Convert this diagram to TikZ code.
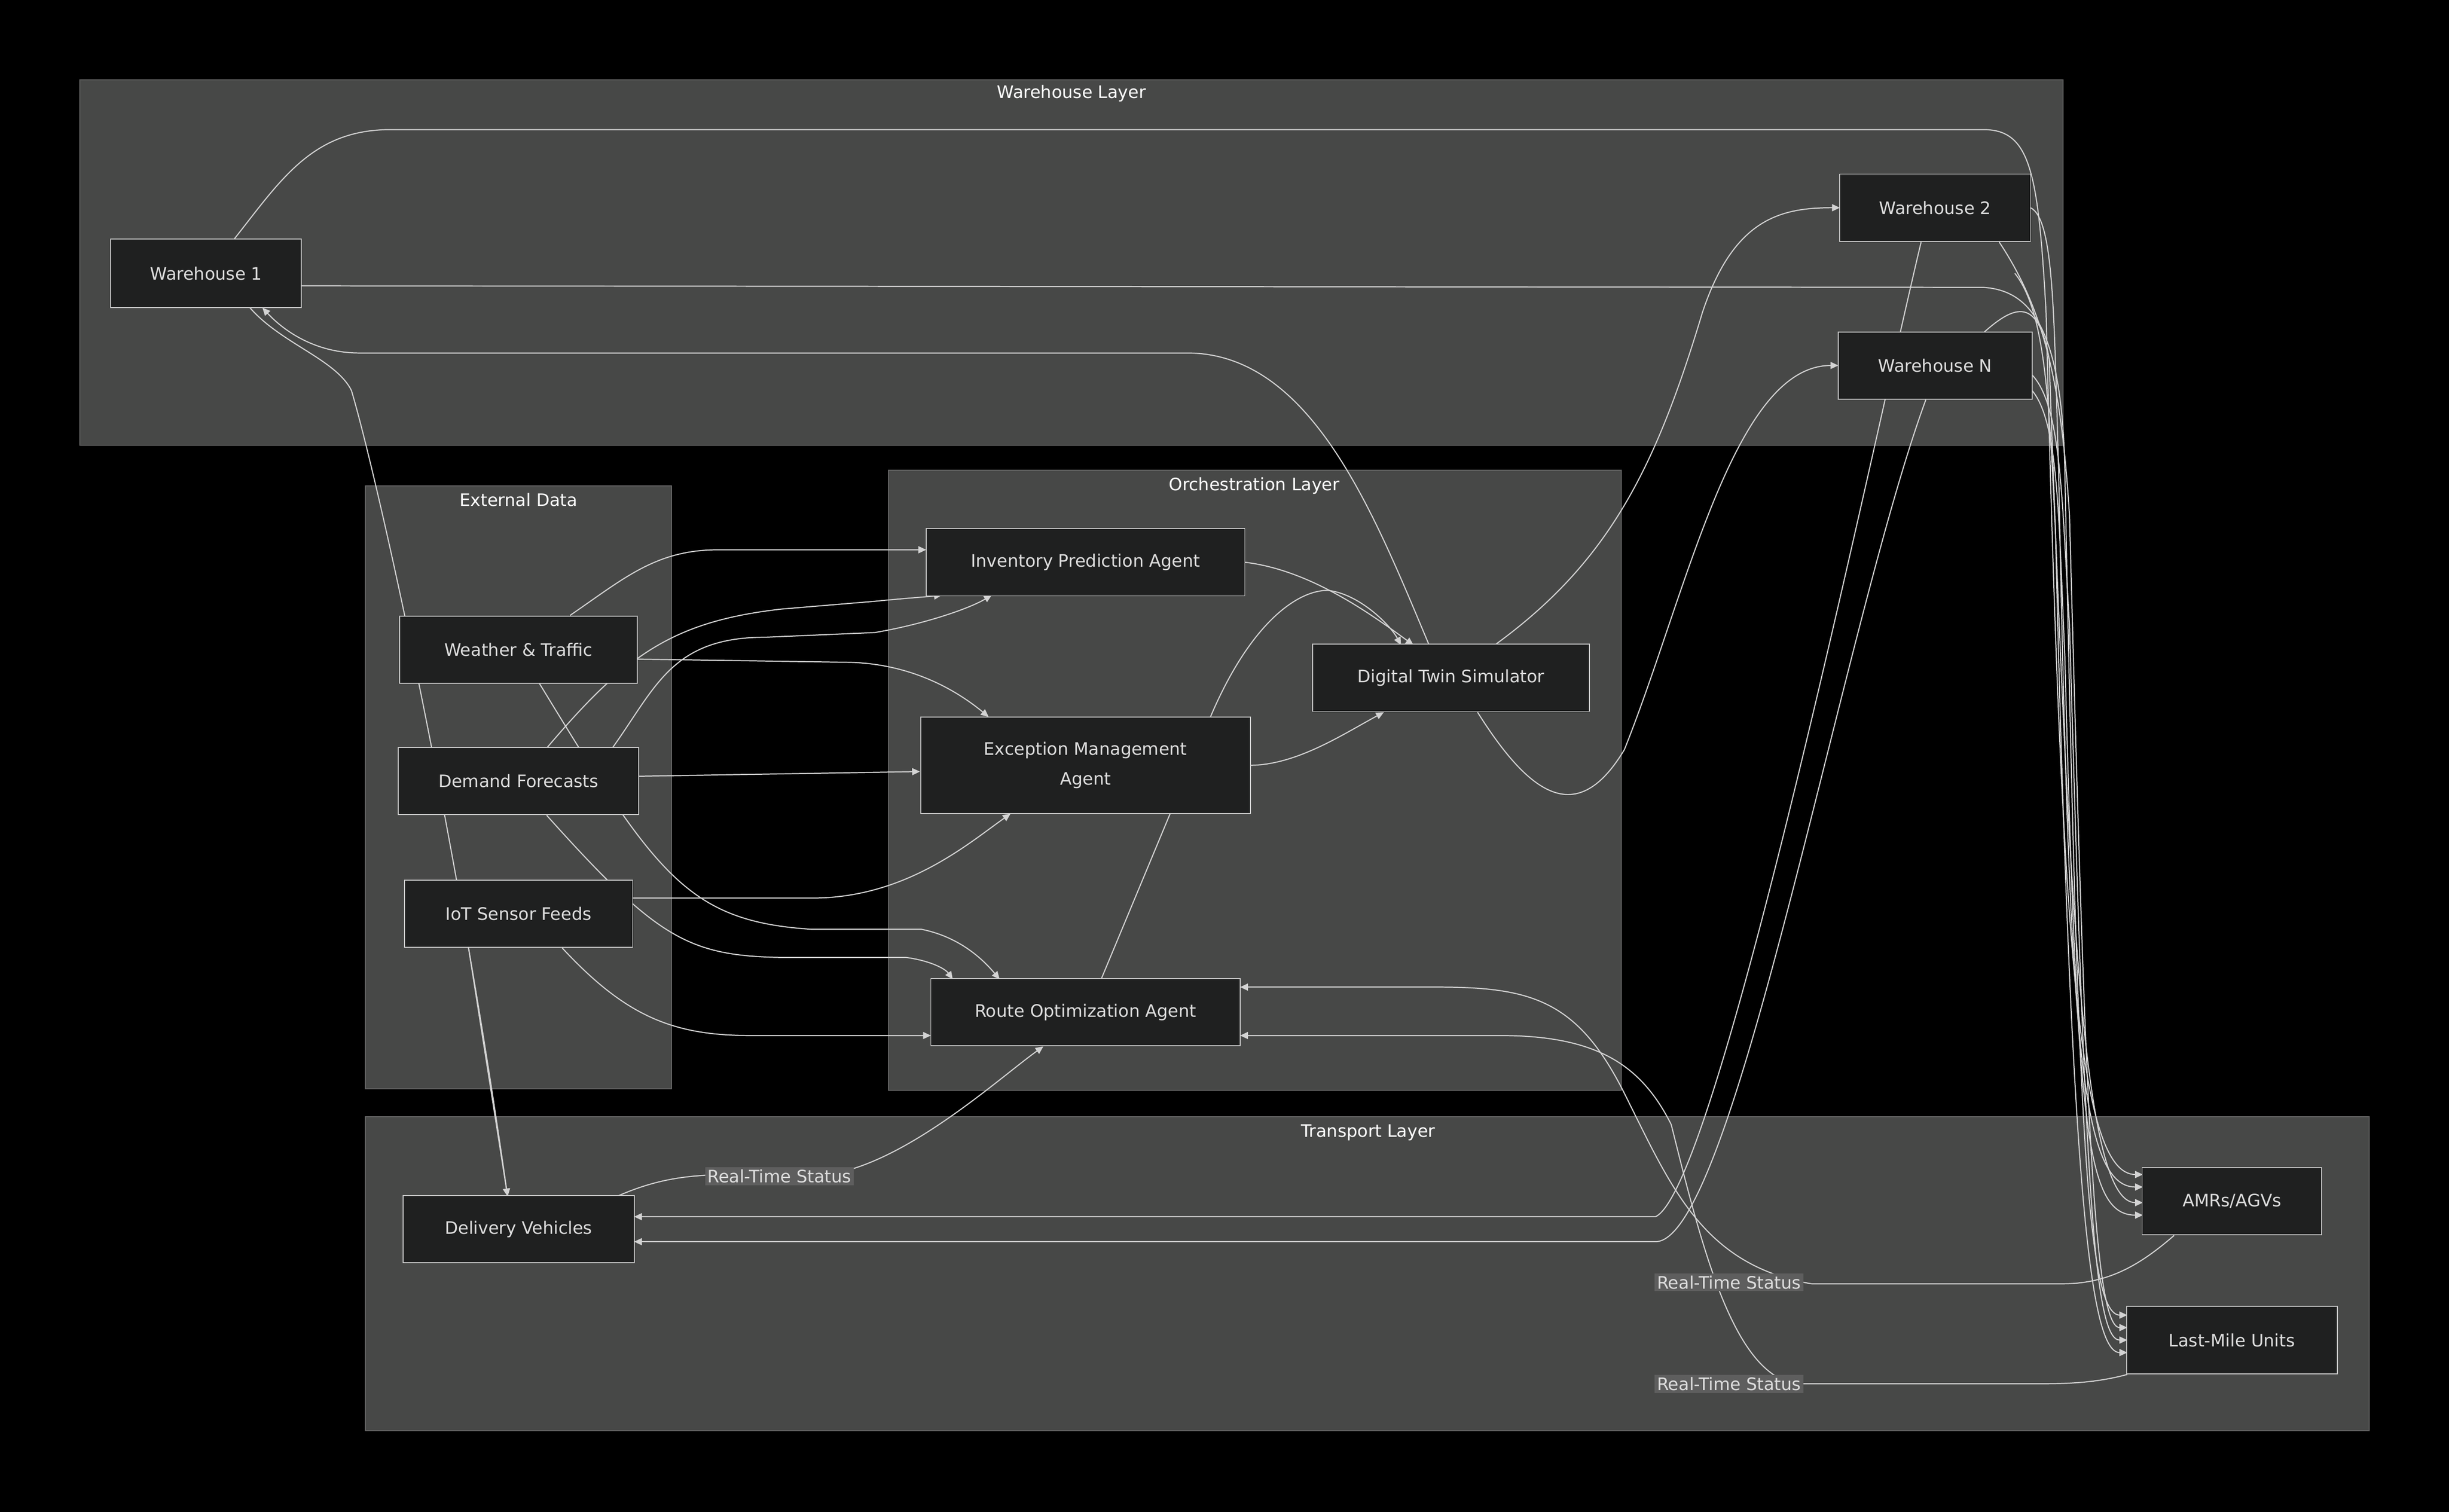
\documentclass[tikz,border=0pt]{standalone}
\usepackage{fontspec}
\setmainfont{DejaVu Sans}
\usetikzlibrary{arrows.meta}
\definecolor{bg}{HTML}{000000}
\definecolor{cl}{HTML}{474847}
\definecolor{clb}{HTML}{666666}
\definecolor{nd}{HTML}{1F2020}
\definecolor{ndb}{HTML}{CCCCCC}
\definecolor{ed}{HTML}{D3D3D3}
\definecolor{tx}{HTML}{DDDDDD}
\definecolor{lb}{HTML}{5E5E5E}
\begin{document}
\begin{tikzpicture}[x=1pt,y=-1pt,
  cluster/.style={draw=clb,fill=cl,line width=0.6pt},
  ctitle/.style={text=white,font=\fontsize{11}{13}\selectfont},
  box/.style={draw=ndb,fill=nd,line width=0.6pt,text=tx,font=\fontsize{11}{19}\selectfont,align=center,inner sep=0pt},
  e/.style={draw=ed,line width=0.7pt,-{Triangle[length=5pt,width=4.5pt]}},
  lab/.style={fill=lb,text=tx,font=\fontsize{11}{13}\selectfont,inner sep=1.5pt}]
\fill[bg] (0,0) rectangle (1568,968);
\useasboundingbox (0,0) rectangle (1568,968);
% clusters
\draw[cluster] (51,51) rectangle (1321,285);
\node[ctitle] (tw) at (686,60) {Warehouse Layer};
\draw[cluster] (234,311) rectangle (430,697);
\node[ctitle] (te) at (332,320) {External Data};
\draw[cluster] (569,301) rectangle (1038,698);
\node[ctitle] (to) at (803,311) {Orchestration Layer};
\draw[cluster] (234,715) rectangle (1517,916);
\node[ctitle] (tt) at (876,725) {Transport Layer};
% edges
\draw[e] (150,153) .. controls (180,115) and (200,83) .. (250,83) -- (1270,83) .. controls (1300,83) and (1305,110) .. (1310,200) .. controls (1320,600) and (1330,752) .. (1372,752);
\draw[e] (193,183) -- (1270,184) .. controls (1300,186) and (1320,210) .. (1322,300) .. controls (1330,700) and (1335,842) .. (1362,842);
\draw[e] (1300,133) .. controls (1315,140) and (1315,200) .. (1318,300) .. controls (1325,650) and (1330,760) .. (1372,760);
\draw[e] (1280,155) .. controls (1310,200) and (1320,250) .. (1325,330) .. controls (1335,700) and (1340,850) .. (1362,850);
\draw[e] (1270,213) .. controls (1290,195) and (1305,190) .. (1312,230) .. controls (1325,600) and (1335,770) .. (1372,770);
\draw[e] (1301,240) .. controls (1320,260) and (1320,320) .. (1325,400) .. controls (1335,750) and (1340,858) .. (1362,858);
\draw[e] (1301,250) .. controls (1318,270) and (1318,330) .. (1322,420) .. controls (1330,720) and (1335,778) .. (1372,778);
\draw[e] (1290,175) .. controls (1310,200) and (1312,260) .. (1316,340) .. controls (1326,760) and (1338,866) .. (1362,866);
\draw[e] (915,413) .. controls (880,330) and (840,226) .. (760,226) -- (230,226) .. controls (200,226) and (180,210) .. (168,197);
\draw[e] (957,413) .. controls (1030,360) and (1060,300) .. (1090,200) .. controls (1110,140) and (1140,133) .. (1178,133);
\draw[e] (946,456) .. controls (980,510) and (1010,530) .. (1040,480) .. controls (1080,380) and (1110,234) .. (1177,234);
\draw[e] (1230,155) .. controls (1200,280) and (1100,760) .. (1060,779) -- (406,779);
\draw[e] (1233,256) .. controls (1180,400) and (1110,795) .. (1060,795) -- (406,795);
\draw[e] (160,197) .. controls (180,220) and (215,230) .. (225,250) .. controls (240,300) and (290,520) .. (325,766);
\draw[e] (300,607) -- (325,766);
\draw[e] (365,394) .. controls (400,370) and (420,352) .. (460,352) -- (593,352);
\draw[e] (408,422) -- (540,424) .. controls (580,424) and (610,440) .. (633,459);
\draw[e] (345,437) .. controls (420,560) and (440,590) .. (520,595) -- (590,595) .. controls (615,600) and (630,615) .. (640,627);
\draw[e] (350,479) .. controls (400,420) and (430,398) .. (500,390) -- (560,385) .. controls (580,383) and (595,382) .. (603,381);
\draw[e] (392,479) .. controls (420,440) and (430,408) .. (490,408) -- (560,405) .. controls (590,400) and (620,390) .. (635,381);
\draw[e] (409,497) -- (589,494);
\draw[e] (350,522) .. controls (420,600) and (440,612) .. (500,613) -- (580,613) .. controls (595,615) and (605,620) .. (610,627);
\draw[e] (405,575) -- (520,575) .. controls (580,575) and (620,540) .. (647,521);
\draw[e] (360,607) .. controls (400,650) and (430,663) .. (480,663) -- (596,663);
\draw[e] (797,360) .. controls (840,365) and (880,395) .. (905,413);
\draw[e] (800,490) .. controls (830,490) and (860,470) .. (886,456);
\draw[e] (705,627) -- (775,459) .. controls (800,400) and (830,378) .. (850,378) .. controls (870,380) and (890,400) .. (897,413);
\draw[e] (395,766) .. controls (420,755) and (440,752) .. (470,752) -- (530,752) .. controls (580,745) and (640,690) .. (668,670);
\draw[e] (1392,791) .. controls (1370,810) and (1350,822) .. (1320,822) -- (1160,822) .. controls (1090,810) and (1070,760) .. (1040,700) .. controls (1010,640) and (980,632) .. (920,632) -- (794,632);
\draw[e] (1362,880) .. controls (1340,886) and (1320,886) .. (1300,886) -- (1150,886) .. controls (1110,880) and (1090,800) .. (1070,720) .. controls (1050,680) and (1020,663) .. (960,663) -- (794,663);
% labels
\node[lab] (l1) at (499,753) {Real-Time Status};
\node[lab] (l2) at (1107,821) {Real-Time Status};
\node[lab] (l3) at (1107,886) {Real-Time Status};
% nodes
\node[box,minimum width=122pt,minimum height=44pt] (w1) at (132,175) {Warehouse 1};
\node[box,minimum width=122pt,minimum height=43pt] (w2) at (1239,133) {Warehouse 2};
\node[box,minimum width=124pt,minimum height=43pt] (wn) at (1239,234) {Warehouse N};
\node[box,minimum width=204pt,minimum height=43pt] (inv) at (695,360) {Inventory Prediction Agent};
\node[box,minimum width=177pt,minimum height=43pt] (dt) at (929,434) {Digital Twin Simulator};
\node[box,minimum width=211pt,minimum height=62pt] (exc) at (695,490) {Exception Management\\Agent};
\node[box,minimum width=198pt,minimum height=43pt] (ro) at (695,648) {Route Optimization Agent};
\node[box,minimum width=152pt,minimum height=43pt] (wt) at (332,416) {Weather \& Traffic};
\node[box,minimum width=154pt,minimum height=43pt] (df) at (332,500) {Demand Forecasts};
\node[box,minimum width=146pt,minimum height=43pt] (iot) at (332,585) {IoT Sensor Feeds};
\node[box,minimum width=148pt,minimum height=43pt] (dv) at (332,787) {Delivery Vehicles};
\node[box,minimum width=115pt,minimum height=43pt] (amr) at (1429,769) {AMRs/AGVs};
\node[box,minimum width=135pt,minimum height=43pt] (lm) at (1429,858) {Last-Mile Units};
\end{tikzpicture}
\end{document}
